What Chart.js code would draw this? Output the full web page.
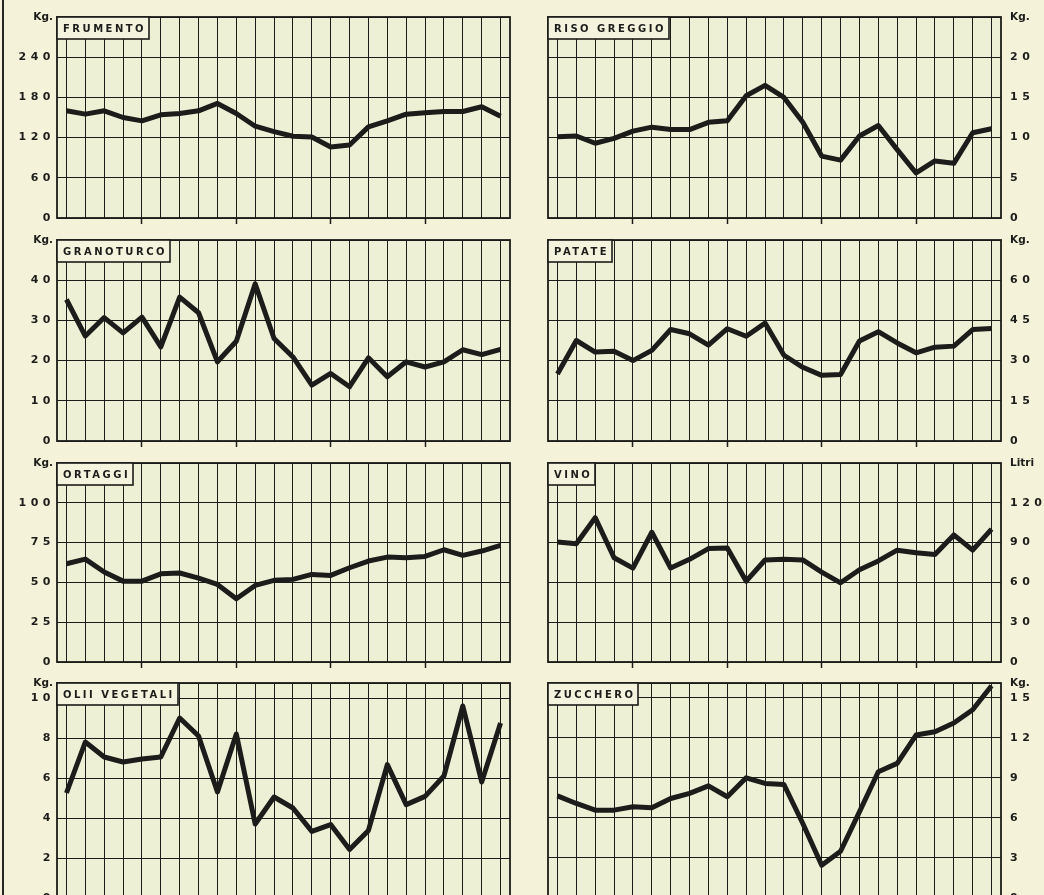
<!DOCTYPE html>
<html lang="it">
<head>
<meta charset="utf-8">
<title>Consumi pro capite</title>
<script src="https://cdn.jsdelivr.net/npm/chart.js@4.4.0/dist/chart.umd.min.js"></script>
<style>
  html, body { margin: 0; padding: 0; }
  body { width: 1044px; height: 895px; overflow: hidden; position: relative; background: #f4f3da; }
  canvas { position: absolute; }
  #edge { position: absolute; left: 2px; top: 0; width: 2px; height: 895px; background: #262626; }
</style>
</head>
<body>
<div id="edge"></div>
<canvas id="frumento"></canvas>
<canvas id="riso"></canvas>
<canvas id="granoturco"></canvas>
<canvas id="patate"></canvas>
<canvas id="ortaggi"></canvas>
<canvas id="vino"></canvas>
<canvas id="olii"></canvas>
<canvas id="zucchero"></canvas>
<script>
// 24 periods, one per vertical grid line
const periods = ['1', '2', '3', '4', '5', '6', '7', '8', '9', '10', '11', '12',
                 '13', '14', '15', '16', '17', '18', '19', '20', '21', '22', '23', '24'];
const fiveYearMarks = [4, 9, 14, 19];

// values
const frumento = [160, 155, 160, 150, 145, 154, 156, 160, 171, 156, 137, 129, 122, 121, 106, 109, 136, 145, 155, 157, 159, 159, 166, 152];
const riso = [10.1, 10.2, 9.3, 9.9, 10.8, 11.3, 11.0, 11.0, 11.9, 12.1, 15.2, 16.5, 15.0, 11.9, 7.7, 7.2, 10.2, 11.5, 8.5, 5.6, 7.1, 6.8, 10.6, 11.1];
const granoturco = [35.2, 26.1, 30.7, 26.9, 30.8, 23.4, 35.8, 31.9, 19.7, 24.8, 39.1, 25.5, 20.9, 13.9, 16.8, 13.5, 20.7, 16.0, 19.7, 18.4, 19.7, 22.7, 21.5, 22.8];
const patate = [25, 37.5, 33.2, 33.5, 30, 33.8, 41.6, 40, 35.8, 41.9, 39.1, 44, 32, 27.5, 24.5, 24.8, 37.3, 40.8, 36.6, 32.9, 35, 35.4, 41.6, 42];
const ortaggi = [61.7, 64.6, 56.5, 50.8, 50.8, 55.4, 55.9, 52.7, 48.7, 39.7, 48.1, 51.3, 51.9, 55, 54.4, 59.2, 63.4, 65.9, 65.5, 66.3, 70.5, 67, 69.7, 73.2];
const vino = [90.4, 89.2, 108.8, 78.6, 70.8, 97.8, 70.8, 77.4, 85.5, 86, 60.9, 76.9, 77.4, 76.9, 67.8, 59.7, 69.5, 76.2, 84.3, 82.3, 81.1, 95.8, 84.3, 100.2];
const olii = [5.25, 7.8, 7.05, 6.8, 6.95, 7.05, 9.0, 8.1, 5.3, 8.2, 3.7, 5.05, 4.5, 3.33, 3.67, 2.42, 3.38, 6.67, 4.67, 5.08, 6.1, 9.6, 5.8, 8.75];
const zucchero = [7.65, 7.08, 6.58, 6.58, 6.83, 6.75, 7.45, 7.83, 8.4, 7.58, 9.0, 8.58, 8.5, 5.58, 2.45, 3.5, 6.45, 9.45, 10.08, 12.2, 12.45, 13.1, 14.1, 15.9];

// y tick values (last one is the top of the frame, labelled with the unit)
const frumentoTicks = [0, 60, 120, 180, 240, 300];
const risoTicks = [0, 5, 10, 15, 20, 25];
const granoturcoTicks = [0, 10, 20, 30, 40, 50];
const patateTicks = [0, 15, 30, 45, 60, 75];
const ortaggiTicks = [0, 25, 50, 75, 100, 125];
const vinoTicks = [0, 30, 60, 90, 120, 150];
const oliiTicks = [0, 2, 4, 6, 8, 10, 10.75];
const zuccheroTicks = [0, 3, 6, 9, 12, 15, 16.1];

const ink = '#1c1c1a';
const plotFill = '#edf0d5';
const boxFill = '#f3f3de';
const rowTop = [17, 240, 463, 683];
const rowHeight = [201, 201, 199, 215];

Chart.defaults.font.family = '"DejaVu Sans", sans-serif';

// plot background, frame, name box and unit label
const panelFrame = {
    id: 'panelFrame',
    beforeDraw(chart) {
        const { ctx, chartArea: a } = chart;
        ctx.letterSpacing = '4.5px';
        ctx.save();
        ctx.fillStyle = plotFill;
        ctx.fillRect(a.left, a.top, a.width, a.height);
        ctx.restore();
    },
    beforeDatasetsDraw(chart, args, opts) {
        const { ctx, chartArea: a } = chart;
        ctx.save();
        ctx.strokeStyle = ink;
        ctx.lineWidth = 1.8;
        ctx.strokeRect(a.left, a.top, a.width, a.height);

        ctx.font = 'bold 10px "DejaVu Sans"';
        ctx.letterSpacing = '2.5px';
        const bw = Math.round(ctx.measureText(opts.title).width + 9);
        const bh = 22;
        ctx.fillStyle = boxFill;
        ctx.fillRect(a.left, a.top, bw, bh);
        ctx.lineWidth = 1.6;
        ctx.strokeRect(a.left, a.top, bw, bh);
        ctx.fillStyle = ink;
        ctx.textAlign = 'left';
        ctx.textBaseline = 'middle';
        ctx.fillText(opts.title, a.left + 6, a.top + bh / 2 + 1);

        ctx.font = 'bold 10.5px "DejaVu Sans"';
        ctx.letterSpacing = '0px';
        if (opts.side === 'left') {
            ctx.textAlign = 'right';
            ctx.fillText(opts.unit, a.left - 4, a.top);
        } else {
            ctx.textAlign = 'left';
            ctx.fillText(opts.unit, a.right + 9, a.top);
        }
        ctx.restore();
    }
};

function makePanel(id, title, unit, values, ticks, col, row) {
    const canvas = document.getElementById(id);
    const left = col === 0;
    const top = ticks[ticks.length - 1];
    canvas.width = left ? 520 : 506;
    canvas.height = rowHeight[row] + 20;
    canvas.style.left = (left ? 0 : 538) + 'px';
    canvas.style.top = (rowTop[row] - 10) + 'px';

    new Chart(canvas, {
        type: 'line',
        data: {
            labels: periods,
            datasets: [{
                data: values,
                borderColor: ink,
                borderWidth: 5,
                borderJoinStyle: 'round',
                pointRadius: 0,
                tension: 0
            }]
        },
        options: {
            responsive: false,
            animation: false,
            events: [],
            layout: { padding: { top: 10, bottom: 0, left: left ? 0 : 10, right: left ? 10 : 0 } },
            plugins: {
                legend: { display: false },
                tooltip: { enabled: false },
                panelFrame: { title: title, unit: unit, side: left ? 'left' : 'right' }
            },
            scales: {
                x: {
                    type: 'category',
                    offset: true,
                    border: { display: false },
                    ticks: { display: false },
                    grid: {
                        offset: false,
                        color: ink,
                        lineWidth: 1,
                        drawTicks: true,
                        tickLength: 6,
                        tickWidth: 1.5,
                        tickColor: (c) => fiveYearMarks.includes(c.index) ? ink : 'rgba(0,0,0,0)'
                    },
                    afterFit: (s) => { s.height = 10; }
                },
                y: {
                    position: left ? 'left' : 'right',
                    min: 0,
                    max: top,
                    border: { display: false },
                    afterBuildTicks: (s) => { s.ticks = ticks.map(v => ({ value: v })); },
                    ticks: {
                        color: ink,
                        padding: left ? 2 : 9,
                        font: { size: 11, weight: 'bold' },
                        callback: (v) => v === top ? '' : String(v)
                    },
                    grid: { color: ink, lineWidth: 1, drawTicks: false },
                    afterFit: (s) => {
                        s.width = left ? 57 : 43;
                        s.paddingTop = 0;
                        s.paddingBottom = 0;
                    }
                }
            }
        },
        plugins: [panelFrame]
    });
}

makePanel('frumento', 'FRUMENTO', 'Kg.', frumento, frumentoTicks, 0, 0);
makePanel('riso', 'RISO GREGGIO', 'Kg.', riso, risoTicks, 1, 0);
makePanel('granoturco', 'GRANOTURCO', 'Kg.', granoturco, granoturcoTicks, 0, 1);
makePanel('patate', 'PATATE', 'Kg.', patate, patateTicks, 1, 1);
makePanel('ortaggi', 'ORTAGGI', 'Kg.', ortaggi, ortaggiTicks, 0, 2);
makePanel('vino', 'VINO', 'Litri', vino, vinoTicks, 1, 2);
makePanel('olii', 'OLII VEGETALI', 'Kg.', olii, oliiTicks, 0, 3);
makePanel('zucchero', 'ZUCCHERO', 'Kg.', zucchero, zuccheroTicks, 1, 3);
</script>
</body>
</html>
